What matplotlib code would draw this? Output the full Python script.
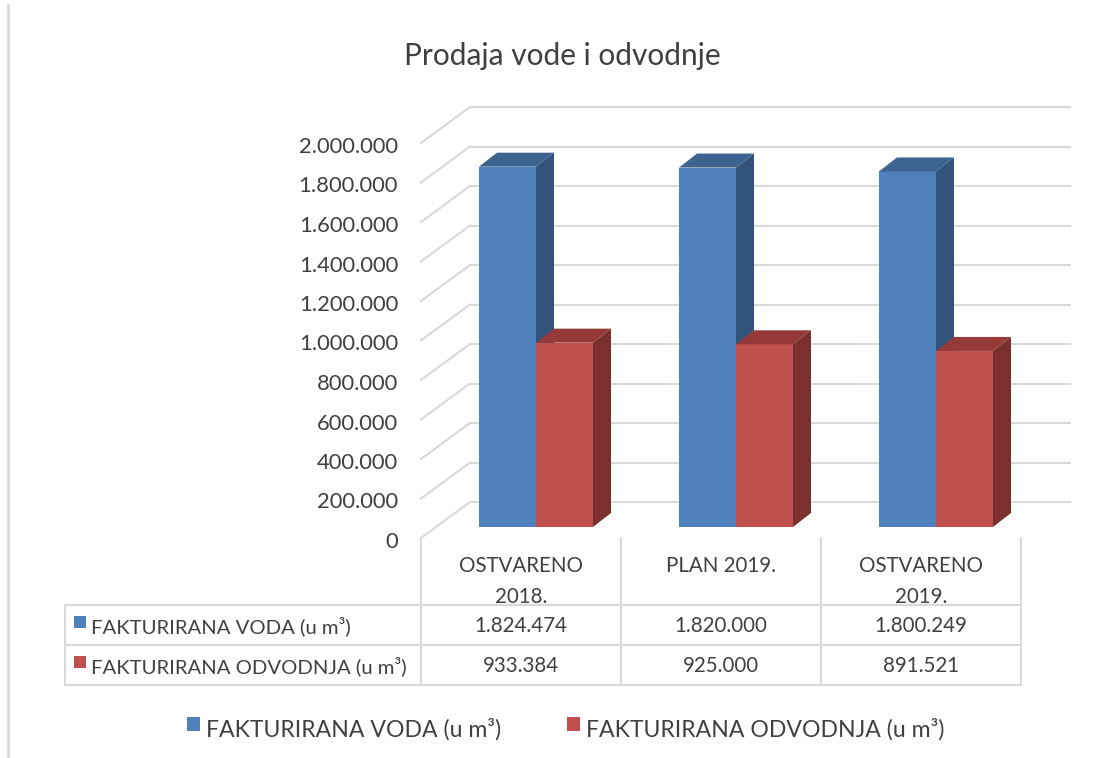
import matplotlib.pyplot as plt
from matplotlib.patches import Polygon, Rectangle
from matplotlib.transforms import blended_transform_factory

categories = ['OSTVARENO\n2018.', 'PLAN 2019.', 'OSTVARENO\n2019.']
series_names = ['FAKTURIRANA VODA (u m³)', 'FAKTURIRANA ODVODNJA (u m³)']
voda = [1824474, 1820000, 1800249]
odvodnja = [933384, 925000, 891521]
y_ticks = list(range(0, 2000001, 200000))

plt.rcParams['font.family'] = ['Lato', 'DejaVu Sans']
TXT = '#404040'
GRID = '#d9d9d9'
colors = [('#4f81bd', '#3d6491', '#32547c'), ('#c0504d', '#953a38', '#7b2f2e')]

W, H = 1105, 758
fig = plt.figure(figsize=(W / 100, H / 100), dpi=100)


def fx(px):
    return px / W


def fy(py):
    return 1 - py / H


def fmt(v):
    return f'{v:,}'.replace(',', '.')


# axes = plane of the bar front faces
x0, x1, y0 = 436, 1036, 527
px_per_val = 39.5 / 200000
ymax = 2200000
ax = fig.add_axes([fx(x0), fy(y0), (x1 - x0) / W, ymax * px_per_val / H])
ax.set_xlim(0, 3)
ax.set_ylim(0, ymax)
ax.axis('off')


def off(dx_px, dy_px):
    return dx_px * 3 / (x1 - x0), dy_px / px_per_val


FRONT = off(-15, -11)
BACK = off(34, 25)
DEPTH = off(18, 14)

# walls
for v in y_ticks:
    ax.plot([BACK[0], 3 + BACK[0]], [v + BACK[1]] * 2, color=GRID, lw=1.5,
            clip_on=False, zorder=1)
    ax.plot([FRONT[0], BACK[0]], [v + FRONT[1], v + BACK[1]], color=GRID,
            lw=1.5, clip_on=False, zorder=1)
    ax.text(FRONT[0] - off(23, 0)[0], v + FRONT[1] - off(0, 4)[1], fmt(v),
            ha='right', va='center', fontsize=15.8, color=TXT)


def bar3d(x, h, w, c, z):
    dx, dy = DEPTH
    ax.add_patch(Rectangle((x, 0), w, h, fc=c[0], ec='none', zorder=z))
    ax.add_patch(Polygon([(x, h), (x + w, h), (x + w + dx, h + dy), (x + dx, h + dy)],
                         closed=True, fc=c[1], ec='none', zorder=z))
    ax.add_patch(Polygon([(x + w, 0), (x + w + dx, dy), (x + w + dx, h + dy), (x + w, h)],
                         closed=True, fc=c[2], ec='none', zorder=z))


bw = 0.285
for i in range(len(categories)):
    bar3d(i + 0.5 - bw, voda[i], bw, colors[0], 3 + 2 * i)
    bar3d(i + 0.5, odvodnja[i], bw, colors[1], 4 + 2 * i)

# data table
tr = blended_transform_factory(ax.transData, fig.transFigure)
for i in range(len(categories) + 1):
    ax.plot([i + FRONT[0]] * 2, [fy(538), fy(685)], color=GRID, lw=1.5,
            transform=tr, clip_on=False)
for py in [605, 645, 685]:
    fig.add_artist(plt.Line2D([fx(65), fx(1021)], [fy(py)] * 2, color=GRID, lw=1.5))
fig.add_artist(plt.Line2D([fx(65)] * 2, [fy(605), fy(685)], color=GRID, lw=1.5))

for i, cat in enumerate(categories):
    cx = i + 0.5 + FRONT[0]
    ax.text(cx, fy(556), cat, transform=tr, ha='center', va='top',
            fontsize=14.8, color=TXT, linespacing=1.7)
    ax.text(cx, fy(626), fmt(voda[i]), transform=tr, ha='center', va='center',
            fontsize=14.8, color=TXT)
    ax.text(cx, fy(666), fmt(odvodnja[i]), transform=tr, ha='center', va='center',
            fontsize=14.8, color=TXT)

for r, (name, py) in enumerate(zip(series_names, [626, 666])):
    fig.add_artist(Rectangle((fx(74), fy(py + 2)), 12 / W, 12 / H,
                             fc=colors[r][0], ec='none'))
    fig.text(fx(91), fy(py), name, ha='left', va='center', fontsize=14.6, color=TXT)

# legend
for name, c, mx in zip(series_names, colors, [187, 567]):
    fig.add_artist(Rectangle((fx(mx), fy(731)), 13 / W, 14 / H, fc=c[0], ec='none'))
    fig.text(fx(mx + 19), fy(729), name, ha='left', va='center', fontsize=16.6, color=TXT)

fig.text(fx(562), fy(56), 'Prodaja vode i odvodnje', ha='center', va='center',
         fontsize=21.5, color=TXT)

# chart border
fig.add_artist(plt.Line2D([fx(7.5)] * 2, [fy(5), fy(758)], color=GRID, lw=2))

fig.savefig('out.png', dpi=100, facecolor='white')
